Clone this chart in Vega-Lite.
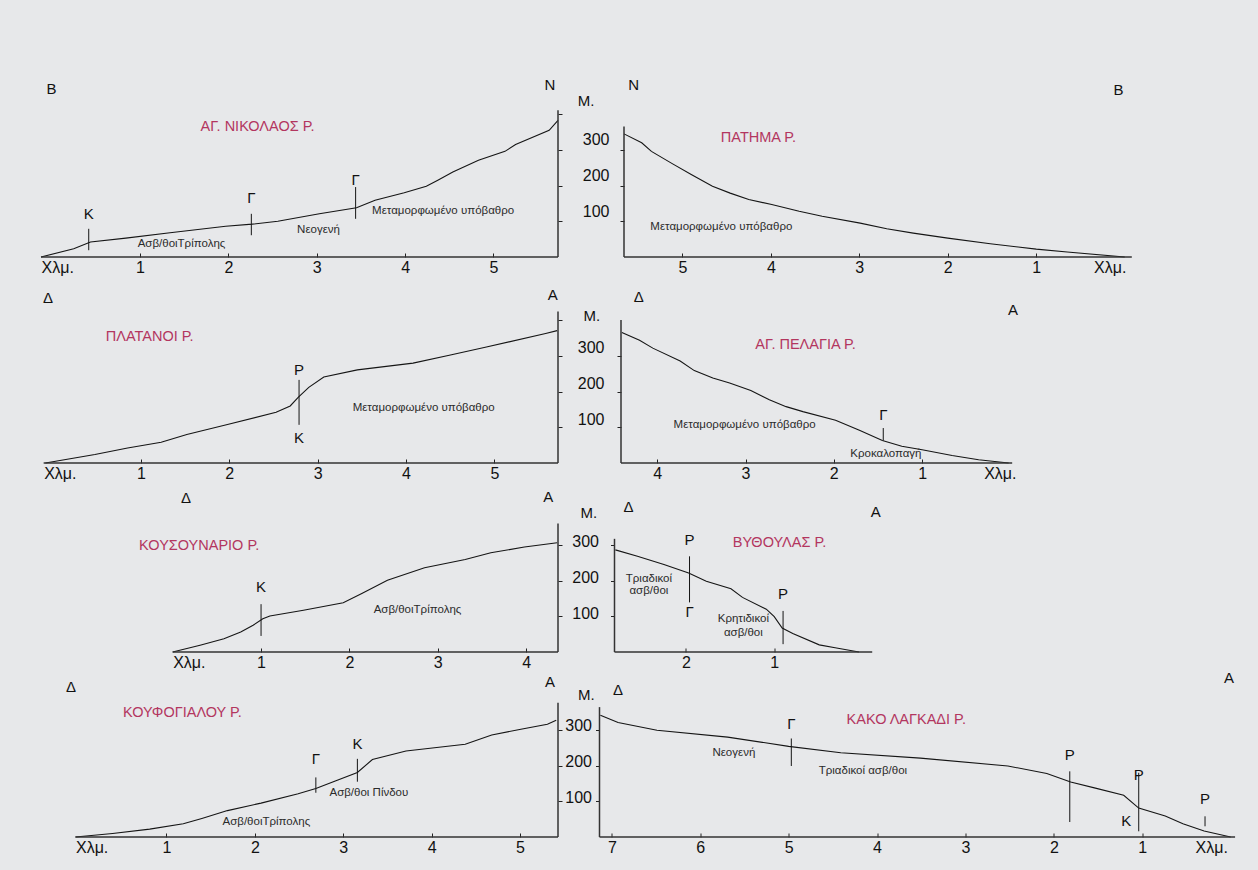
{
"$schema": "https://vega.github.io/schema/vega-lite/v6.json",
"background": "#e7e8ea",
"padding": {"left": 38, "top": 70, "right": 30, "bottom": 25},
"spacing": 0,
"config": {
  "view": {"stroke": null},
  "font": "Liberation Sans",
  "axisX": {"domain": false, "grid": false, "tickSize": -4, "tickColor": "#222", "labelPadding": 6, "labelFontSize": 16, "labelColor": "#111", "labelFlush": false, "labelOverlap": false, "labelBound": false},
  "axisY": {"domain": false, "grid": false, "tickSize": 4, "tickColor": "#222", "labelFontSize": 16, "labelColor": "#111", "labelFlush": false, "labelOverlap": false, "labelBound": false}
},
"datasets": {
"profiles": [
{"river":"nik","km":-0.12,"m":0},{"river":"nik","km":0.25,"m":23},{"river":"nik","km":0.44,"m":42},{"river":"nik","km":0.84,"m":53},{"river":"nik","km":1.34,"m":68},{"river":"nik","km":1.97,"m":86},{"river":"nik","km":2.27,"m":92},{"river":"nik","km":2.56,"m":100},{"river":"nik","km":3.03,"m":121},{"river":"nik","km":3.45,"m":138},{"river":"nik","km":3.66,"m":159},{"river":"nik","km":3.99,"m":180},{"river":"nik","km":4.24,"m":198},{"river":"nik","km":4.37,"m":215},{"river":"nik","km":4.54,"m":238},{"river":"nik","km":4.83,"m":271},{"river":"nik","km":5.13,"m":296},{"river":"nik","km":5.25,"m":315},{"river":"nik","km":5.63,"m":355},{"river":"nik","km":5.73,"m":383},
{"river":"pat","km":5.66,"m":345},{"river":"pat","km":5.46,"m":320},{"river":"pat","km":5.35,"m":296},{"river":"pat","km":5.11,"m":261},{"river":"pat","km":4.90,"m":231},{"river":"pat","km":4.66,"m":198},{"river":"pat","km":4.46,"m":179},{"river":"pat","km":4.25,"m":161},{"river":"pat","km":3.99,"m":147},{"river":"pat","km":3.68,"m":128},{"river":"pat","km":3.42,"m":114},{"river":"pat","km":2.99,"m":95},{"river":"pat","km":2.69,"m":79},{"river":"pat","km":2.39,"m":67},{"river":"pat","km":2.00,"m":53},{"river":"pat","km":1.52,"m":37},{"river":"pat","km":1.00,"m":22},{"river":"pat","km":0.65,"m":14},{"river":"pat","km":0,"m":0},
{"river":"pla","km":-0.08,"m":0},{"river":"pla","km":0.48,"m":24},{"river":"pla","km":0.85,"m":42},{"river":"pla","km":1.23,"m":58},{"river":"pla","km":1.52,"m":80},{"river":"pla","km":1.98,"m":108},{"river":"pla","km":2.53,"m":142},{"river":"pla","km":2.69,"m":160},{"river":"pla","km":2.78,"m":184},{"river":"pla","km":2.90,"m":212},{"river":"pla","km":3.07,"m":241},{"river":"pla","km":3.45,"m":261},{"river":"pla","km":4.08,"m":280},{"river":"pla","km":4.49,"m":302},{"river":"pla","km":4.91,"m":325},{"river":"pla","km":5.58,"m":363},{"river":"pla","km":5.71,"m":371},
{"river":"pel","km":4.40,"m":366},{"river":"pel","km":4.20,"m":344},{"river":"pel","km":4.05,"m":322},{"river":"pel","km":3.74,"m":286},{"river":"pel","km":3.58,"m":259},{"river":"pel","km":3.37,"m":238},{"river":"pel","km":3.18,"m":224},{"river":"pel","km":2.94,"m":203},{"river":"pel","km":2.73,"m":177},{"river":"pel","km":2.54,"m":158},{"river":"pel","km":2.35,"m":144},{"river":"pel","km":1.98,"m":120},{"river":"pel","km":1.71,"m":92},{"river":"pel","km":1.45,"m":63},{"river":"pel","km":1.23,"m":47},{"river":"pel","km":1.00,"m":37},{"river":"pel","km":0.66,"m":21},{"river":"pel","km":0.36,"m":9},{"river":"pel","km":0.02,"m":0},
{"river":"kou","km":0,"m":0},{"river":"kou","km":0.31,"m":19},{"river":"kou","km":0.58,"m":37},{"river":"kou","km":0.77,"m":56},{"river":"kou","km":0.91,"m":75},{"river":"kou","km":1.02,"m":93},{"river":"kou","km":1.10,"m":101},{"river":"kou","km":1.48,"m":117},{"river":"kou","km":1.93,"m":138},{"river":"kou","km":2.14,"m":164},{"river":"kou","km":2.43,"m":201},{"river":"kou","km":2.85,"m":236},{"river":"kou","km":3.31,"m":259},{"river":"kou","km":3.60,"m":278},{"river":"kou","km":3.98,"m":294},{"river":"kou","km":4.35,"m":306},
{"river":"vyt","km":2.80,"m":286},{"river":"vyt","km":2.55,"m":268},{"river":"vyt","km":2.25,"m":245},{"river":"vyt","km":1.97,"m":221},{"river":"vyt","km":1.77,"m":198},{"river":"vyt","km":1.49,"m":177},{"river":"vyt","km":1.36,"m":153},{"river":"vyt","km":1.09,"m":120},{"river":"vyt","km":1.00,"m":99},{"river":"vyt","km":0.91,"m":67},{"river":"vyt","km":0.79,"m":52},{"river":"vyt","km":0.49,"m":20},{"river":"vyt","km":0.31,"m":12},{"river":"vyt","km":0.04,"m":0},
{"river":"kf","km":-0.03,"m":0},{"river":"kf","km":0.39,"m":10},{"river":"kf","km":0.81,"m":22},{"river":"kf","km":1.19,"m":37},{"river":"kf","km":1.40,"m":52},{"river":"kf","km":1.69,"m":74},{"river":"kf","km":2.07,"m":95},{"river":"kf","km":2.49,"m":121},{"river":"kf","km":2.69,"m":136},{"river":"kf","km":2.91,"m":157},{"river":"kf","km":3.16,"m":181},{"river":"kf","km":3.33,"m":217},{"river":"kf","km":3.71,"m":241},{"river":"kf","km":4.38,"m":260},{"river":"kf","km":4.68,"m":286},{"river":"kf","km":5.01,"m":302},{"river":"kf","km":5.31,"m":316},{"river":"kf","km":5.41,"m":327},
{"river":"kak","km":7.13,"m":341},{"river":"kak","km":6.93,"m":321},{"river":"kak","km":6.49,"m":299},{"river":"kak","km":5.69,"m":280},{"river":"kak","km":5.00,"m":254},{"river":"kak","km":4.41,"m":236},{"river":"kak","km":3.51,"m":221},{"river":"kak","km":2.52,"m":199},{"river":"kak","km":2.08,"m":178},{"river":"kak","km":1.81,"m":154},{"river":"kak","km":1.53,"m":137},{"river":"kak","km":1.21,"m":117},{"river":"kak","km":1.04,"m":81},{"river":"kak","km":0.74,"m":59},{"river":"kak","km":0.54,"m":37},{"river":"kak","km":0.30,"m":17},{"river":"kak","km":0,"m":0}
],
"hrules": [
{"river":"nik","km":-0.12,"km2":5.73,"m":0},{"river":"pat","km":5.66,"km2":-0.08,"m":0},{"river":"pla","km":-0.10,"km2":5.72,"m":0},{"river":"pel","km":4.41,"km2":-0.02,"m":0},{"river":"kou","km":0,"km2":4.36,"m":0},{"river":"vyt","km":2.81,"km2":-0.11,"m":0},{"river":"kf","km":-0.03,"km2":5.43,"m":0},{"river":"kak","km":7.14,"km2":-0.05,"m":0}
],
"vrules": [
{"river":"nik","kind":"axis","km":5.73,"m":0,"m2":411},{"river":"pat","kind":"axis","km":5.66,"m":0,"m2":366},{"river":"pla","kind":"axis","km":5.72,"m":0,"m2":425},{"river":"pel","kind":"axis","km":4.41,"m":0,"m2":401},{"river":"kou","kind":"axis","km":4.36,"m":0,"m2":360},{"river":"vyt","kind":"axis","km":2.81,"m":0,"m2":317},{"river":"kf","kind":"axis","km":5.43,"m":0,"m2":376},{"river":"kak","kind":"axis","km":7.14,"m":0,"m2":364},
{"river":"nik","kind":"mark","km":0.42,"m":19,"m2":79},{"river":"nik","kind":"mark","km":2.26,"m":61,"m2":121},{"river":"nik","kind":"mark","km":3.44,"m":107,"m2":196},
{"river":"pla","kind":"mark","km":2.79,"m":107,"m2":233},
{"river":"pel","kind":"mark","km":1.44,"m":63,"m2":98},
{"river":"kou","kind":"mark","km":1.0,"m":45,"m2":134},
{"river":"kf","kind":"mark","km":2.69,"m":124,"m2":167},{"river":"kf","kind":"mark","km":3.16,"m":155,"m2":219},
{"river":"vyt","kind":"mark","km":1.96,"m":139,"m2":268},{"river":"vyt","kind":"mark","km":0.90,"m":22,"m2":115},
{"river":"kak","kind":"mark","km":4.97,"m":199,"m2":276},{"river":"kak","kind":"mark","km":1.82,"m":42,"m2":184},{"river":"kak","kind":"mark","km":1.04,"m":16,"m2":180},{"river":"kak","kind":"mark","km":0.29,"m":30,"m2":58}
],
"labels": [
{"river":"nik","kind":"sym","text":"Β","km":0,"m":472},{"river":"nik","kind":"sym","text":"Ν","km":5.64,"m":483},{"river":"nik","kind":"sym","text":"Κ","km":0.42,"m":121},{"river":"nik","kind":"sym","text":"Γ","km":2.26,"m":165},{"river":"nik","kind":"sym","text":"Γ","km":3.44,"m":215},
{"river":"nik","kind":"name","text":"ΑΓ. ΝΙΚΟΛΑΟΣ Ρ.","km":2.33,"m":364},
{"river":"nik","kind":"rock","text":"Ασβ/θοιΤρίπολης","km":1.47,"m":37},{"river":"nik","kind":"rock","text":"Νεογενή","km":3.02,"m":75},{"river":"nik","kind":"rock","text":"Μεταμορφωμένο υπόβαθρο","km":4.43,"m":128},
{"river":"pat","kind":"sym","text":"Ν","km":5.55,"m":483},{"river":"pat","kind":"sym","text":"Β","km":0.07,"m":467},{"river":"pat","kind":"sym","text":"Μ.","km":6.09,"m":438},
{"river":"pat","kind":"name","text":"ΠΑΤΗΜΑ Ρ.","km":4.14,"m":334},
{"river":"pat","kind":"rock","text":"Μεταμορφωμένο υπόβαθρο","km":4.56,"m":84},
{"river":"pla","kind":"sym","text":"Δ","km":-0.05,"m":462},{"river":"pla","kind":"sym","text":"Α","km":5.66,"m":472},{"river":"pla","kind":"sym","text":"Ρ","km":2.79,"m":261},{"river":"pla","kind":"sym","text":"Κ","km":2.79,"m":69},
{"river":"pla","kind":"name","text":"ΠΛΑΤΑΝΟΙ Ρ.","km":1.10,"m":354},
{"river":"pla","kind":"rock","text":"Μεταμορφωμένο υπόβαθρο","km":4.20,"m":153},
{"river":"pel","kind":"sym","text":"Δ","km":4.21,"m":465},{"river":"pel","kind":"sym","text":"Α","km":-0.03,"m":428},{"river":"pel","kind":"sym","text":"Μ.","km":4.74,"m":411},{"river":"pel","kind":"sym","text":"Γ","km":1.44,"m":134},
{"river":"pel","kind":"name","text":"ΑΓ. ΠΕΛΑΓΙΑ Ρ.","km":2.32,"m":331},
{"river":"pel","kind":"rock","text":"Μεταμορφωμένο υπόβαθρο","km":3.01,"m":106},{"river":"pel","kind":"rock","text":"Κροκαλοπαγή","km":1.41,"m":24},
{"river":"kou","kind":"sym","text":"Δ","km":0.15,"m":430},{"river":"kou","kind":"sym","text":"Α","km":4.25,"m":433},{"river":"kou","kind":"sym","text":"Κ","km":1.0,"m":182},
{"river":"kou","kind":"name","text":"ΚΟΥΣΟΥΝΑΡΙΟ Ρ.","km":0.30,"m":297},
{"river":"kou","kind":"rock","text":"Ασβ/θοιΤρίπολης","km":2.77,"m":119},
{"river":"vyt","kind":"sym","text":"Δ","km":2.65,"m":407},{"river":"vyt","kind":"sym","text":"Α","km":-0.15,"m":392},{"river":"vyt","kind":"sym","text":"Μ.","km":3.10,"m":388},{"river":"vyt","kind":"sym","text":"Ρ","km":1.96,"m":313},{"river":"vyt","kind":"sym","text":"Γ","km":1.96,"m":111},{"river":"vyt","kind":"sym","text":"Ρ","km":0.90,"m":162},
{"river":"vyt","kind":"name","text":"ΒΥΘΟΥΛΑΣ Ρ.","km":0.94,"m":306},
{"river":"vyt","kind":"rock","text":"Τριαδικοί","km":2.42,"m":205},{"river":"vyt","kind":"rock","text":"ασβ/θοι","km":2.42,"m":170},{"river":"vyt","kind":"rock","text":"Κρητιδικοί","km":1.35,"m":92},{"river":"vyt","kind":"rock","text":"ασβ/θοι","km":1.35,"m":54},
{"river":"kf","kind":"sym","text":"Δ","km":-0.08,"m":419},{"river":"kf","kind":"sym","text":"Α","km":5.34,"m":433},{"river":"kf","kind":"sym","text":"Γ","km":2.69,"m":219},{"river":"kf","kind":"sym","text":"Κ","km":3.16,"m":262},
{"river":"kf","kind":"name","text":"ΚΟΥΦΟΓΙΑΛΟΥ Ρ.","km":1.18,"m":348},
{"river":"kf","kind":"rock","text":"Ασβ/θοι Πίνδου","km":3.29,"m":124},{"river":"kf","kind":"rock","text":"Ασβ/θοιΤρίπολης","km":2.13,"m":41},
{"river":"kak","kind":"sym","text":"Δ","km":6.93,"m":411},{"river":"kak","kind":"sym","text":"Μ.","km":7.29,"m":397},{"river":"kak","kind":"sym","text":"Α","km":0.02,"m":445},{"river":"kak","kind":"sym","text":"Γ","km":4.97,"m":318},{"river":"kak","kind":"sym","text":"Ρ","km":1.82,"m":231},{"river":"kak","kind":"sym","text":"Ρ","km":1.04,"m":173},{"river":"kak","kind":"sym","text":"Κ","km":1.18,"m":44},{"river":"kak","kind":"sym","text":"Ρ","km":0.29,"m":106},
{"river":"kak","kind":"name","text":"ΚΑΚΟ ΛΑΓΚΑΔΙ Ρ.","km":3.67,"m":327},
{"river":"kak","kind":"rock","text":"Νεογενή","km":5.62,"m":236},{"river":"kak","kind":"rock","text":"Τριαδικοί ασβ/θοι","km":4.16,"m":184}
]
},
"vconcat": [
{"spacing": 14, "hconcat": [
 {"width": 517, "height": 187,
  "encoding": {
   "x": {"field":"km","type":"quantitative","scale":{"domain":[-0.12,5.73],"nice":false,"zero":false},"axis":{"values":[-0.12,1,2,3,4,5],"title":null,"labelExpr":"datum.value < 0.5 ? 'Χλμ.' : datum.label","labelAlign":{"condition":{"test":"datum.value < 0.5","value":"left"},"value":"center"},"tickOpacity":{"condition":{"test":"datum.value < 0.5","value":0},"value":1}}},
   "y": {"field":"m","type":"quantitative","scale":{"domain":[0,524],"nice":false},"axis":{"orient":"right","values":[100,200,300,400],"labels":false,"title":null,"minExtent":4,"maxExtent":4}}},
  "layer": [
   {"data":{"name":"profiles"},"transform":[{"filter":"datum.river === 'nik'"}],"mark":{"type":"line","color":"#151515","strokeWidth":1.1}},
   {"data":{"name":"hrules"},"transform":[{"filter":"datum.river === 'nik'"}],"mark":{"type":"rule","color":"#333","strokeWidth":1.5},"encoding":{"x2":{"field":"km2"}}},
   {"data":{"name":"vrules"},"transform":[{"filter":"datum.river === 'nik' && datum.kind === 'axis'"}],"mark":{"type":"rule","color":"#333","strokeWidth":1.5},"encoding":{"y2":{"field":"m2"}}},
   {"data":{"name":"vrules"},"transform":[{"filter":"datum.river === 'nik' && datum.kind === 'mark'"}],"mark":{"type":"rule","color":"#151515","strokeWidth":1},"encoding":{"y2":{"field":"m2"}}},
   {"data":{"name":"labels"},"transform":[{"filter":"datum.river === 'nik' && datum.kind === 'sym'"}],"mark":{"type":"text","fontSize":15,"color":"#111"},"encoding":{"text":{"field":"text"}}},
   {"data":{"name":"labels"},"transform":[{"filter":"datum.river === 'nik' && datum.kind === 'name'"}],"mark":{"type":"text","fontSize":14.5,"color":"#b3365f"},"encoding":{"text":{"field":"text"}}},
   {"data":{"name":"labels"},"transform":[{"filter":"datum.river === 'nik' && datum.kind === 'rock'"}],"mark":{"type":"text","fontSize":11.5,"color":"#2b2b2b"},"encoding":{"text":{"field":"text"}}}
  ]},
 {"width": 514, "height": 187,
  "encoding": {
   "x": {"field":"km","type":"quantitative","scale":{"domain":[5.66,-0.15],"nice":false,"zero":false},"axis":{"values":[5,4,3,2,1,0.17],"title":null,"labelExpr":"datum.value < 0.5 ? 'Χλμ.' : datum.label","tickOpacity":{"condition":{"test":"datum.value < 0.5","value":0},"value":1}}},
   "y": {"field":"m","type":"quantitative","scale":{"domain":[0,524],"nice":false},"axis":{"orient":"left","values":[100,200,300],"title":null,"labelPadding":11,"labelOffset":-10,"minExtent":45,"maxExtent":45}}},
  "layer": [
   {"data":{"name":"profiles"},"transform":[{"filter":"datum.river === 'pat'"}],"mark":{"type":"line","color":"#151515","strokeWidth":1.1}},
   {"data":{"name":"hrules"},"transform":[{"filter":"datum.river === 'pat'"}],"mark":{"type":"rule","color":"#333","strokeWidth":1.5},"encoding":{"x2":{"field":"km2"}}},
   {"data":{"name":"vrules"},"transform":[{"filter":"datum.river === 'pat' && datum.kind === 'axis'"}],"mark":{"type":"rule","color":"#333","strokeWidth":1.5},"encoding":{"y2":{"field":"m2"}}},
   {"data":{"name":"labels"},"transform":[{"filter":"datum.river === 'pat' && datum.kind === 'sym'"}],"mark":{"type":"text","fontSize":15,"color":"#111"},"encoding":{"text":{"field":"text"}}},
   {"data":{"name":"labels"},"transform":[{"filter":"datum.river === 'pat' && datum.kind === 'name'"}],"mark":{"type":"text","fontSize":14.5,"color":"#b3365f"},"encoding":{"text":{"field":"text"}}},
   {"data":{"name":"labels"},"transform":[{"filter":"datum.river === 'pat' && datum.kind === 'rock'"}],"mark":{"type":"text","fontSize":11.5,"color":"#2b2b2b"},"encoding":{"text":{"field":"text"}}}
  ]}
]},
{"spacing": 13, "hconcat": [
 {"width": 517, "height": 188,
  "encoding": {
   "x": {"field":"km","type":"quantitative","scale":{"domain":[-0.13,5.72],"nice":false,"zero":false},"axis":{"values":[-0.1,1,2,3,4,5],"title":null,"labelExpr":"datum.value < 0.5 ? 'Χλμ.' : datum.label","labelAlign":{"condition":{"test":"datum.value < 0.5","value":"left"},"value":"center"},"tickOpacity":{"condition":{"test":"datum.value < 0.5","value":0},"value":1}}},
   "y": {"field":"m","type":"quantitative","scale":{"domain":[0,527],"nice":false},"axis":{"orient":"right","values":[100,200,300,400],"labels":false,"title":null,"minExtent":4,"maxExtent":4}}},
  "layer": [
   {"data":{"name":"profiles"},"transform":[{"filter":"datum.river === 'pla'"}],"mark":{"type":"line","color":"#151515","strokeWidth":1.1}},
   {"data":{"name":"hrules"},"transform":[{"filter":"datum.river === 'pla'"}],"mark":{"type":"rule","color":"#333","strokeWidth":1.5},"encoding":{"x2":{"field":"km2"}}},
   {"data":{"name":"vrules"},"transform":[{"filter":"datum.river === 'pla' && datum.kind === 'axis'"}],"mark":{"type":"rule","color":"#333","strokeWidth":1.5},"encoding":{"y2":{"field":"m2"}}},
   {"data":{"name":"vrules"},"transform":[{"filter":"datum.river === 'pla' && datum.kind === 'mark'"}],"mark":{"type":"rule","color":"#151515","strokeWidth":1},"encoding":{"y2":{"field":"m2"}}},
   {"data":{"name":"labels"},"transform":[{"filter":"datum.river === 'pla' && datum.kind === 'sym'"}],"mark":{"type":"text","fontSize":15,"color":"#111"},"encoding":{"text":{"field":"text"}}},
   {"data":{"name":"labels"},"transform":[{"filter":"datum.river === 'pla' && datum.kind === 'name'"}],"mark":{"type":"text","fontSize":14.5,"color":"#b3365f"},"encoding":{"text":{"field":"text"}}},
   {"data":{"name":"labels"},"transform":[{"filter":"datum.river === 'pla' && datum.kind === 'rock'"}],"mark":{"type":"text","fontSize":11.5,"color":"#2b2b2b"},"encoding":{"text":{"field":"text"}}}
  ]},
 {"width": 400, "height": 188,
  "encoding": {
   "x": {"field":"km","type":"quantitative","scale":{"domain":[4.41,-0.12],"nice":false,"zero":false},"axis":{"values":[4,3,2,1,0.12],"title":null,"labelExpr":"datum.value < 0.5 ? 'Χλμ.' : datum.label","tickOpacity":{"condition":{"test":"datum.value < 0.5","value":0},"value":1}}},
   "y": {"field":"m","type":"quantitative","scale":{"domain":[0,527],"nice":false},"axis":{"orient":"left","values":[100,200,300],"title":null,"labelPadding":13,"labelOffset":-8,"minExtent":45,"maxExtent":45}}},
  "layer": [
   {"data":{"name":"profiles"},"transform":[{"filter":"datum.river === 'pel'"}],"mark":{"type":"line","color":"#151515","strokeWidth":1.1}},
   {"data":{"name":"hrules"},"transform":[{"filter":"datum.river === 'pel'"}],"mark":{"type":"rule","color":"#333","strokeWidth":1.5},"encoding":{"x2":{"field":"km2"}}},
   {"data":{"name":"vrules"},"transform":[{"filter":"datum.river === 'pel' && datum.kind === 'axis'"}],"mark":{"type":"rule","color":"#333","strokeWidth":1.5},"encoding":{"y2":{"field":"m2"}}},
   {"data":{"name":"vrules"},"transform":[{"filter":"datum.river === 'pel' && datum.kind === 'mark'"}],"mark":{"type":"rule","color":"#151515","strokeWidth":1},"encoding":{"y2":{"field":"m2"}}},
   {"data":{"name":"labels"},"transform":[{"filter":"datum.river === 'pel' && datum.kind === 'sym'"}],"mark":{"type":"text","fontSize":15,"color":"#111"},"encoding":{"text":{"field":"text"}}},
   {"data":{"name":"labels"},"transform":[{"filter":"datum.river === 'pel' && datum.kind === 'name'"}],"mark":{"type":"text","fontSize":14.5,"color":"#b3365f"},"encoding":{"text":{"field":"text"}}},
   {"data":{"name":"labels"},"transform":[{"filter":"datum.river === 'pel' && datum.kind === 'rock'"}],"mark":{"type":"text","fontSize":11.5,"color":"#2b2b2b"},"encoding":{"text":{"field":"text"}}}
  ]}
]},
{"spacing": 6.5, "hconcat": [
 {"width": 517, "height": 171,
  "encoding": {
   "x": {"field":"km","type":"quantitative","scale":{"domain":[-1.49,4.36],"nice":false,"zero":false},"axis":{"values":[0,1,2,3,4],"title":null,"labelExpr":"datum.value < 0.5 ? 'Χλμ.' : datum.label","labelAlign":{"condition":{"test":"datum.value < 0.5","value":"left"},"value":"center"},"tickOpacity":{"condition":{"test":"datum.value < 0.5","value":0},"value":1}}},
   "y": {"field":"m","type":"quantitative","scale":{"domain":[0,479],"nice":false},"axis":{"orient":"right","values":[100,200,300],"labels":false,"title":null,"minExtent":4,"maxExtent":4}}},
  "layer": [
   {"data":{"name":"profiles"},"transform":[{"filter":"datum.river === 'kou'"}],"mark":{"type":"line","color":"#151515","strokeWidth":1.1}},
   {"data":{"name":"hrules"},"transform":[{"filter":"datum.river === 'kou'"}],"mark":{"type":"rule","color":"#333","strokeWidth":1.5},"encoding":{"x2":{"field":"km2"}}},
   {"data":{"name":"vrules"},"transform":[{"filter":"datum.river === 'kou' && datum.kind === 'axis'"}],"mark":{"type":"rule","color":"#333","strokeWidth":1.5},"encoding":{"y2":{"field":"m2"}}},
   {"data":{"name":"vrules"},"transform":[{"filter":"datum.river === 'kou' && datum.kind === 'mark'"}],"mark":{"type":"rule","color":"#151515","strokeWidth":1},"encoding":{"y2":{"field":"m2"}}},
   {"data":{"name":"labels"},"transform":[{"filter":"datum.river === 'kou' && datum.kind === 'sym'"}],"mark":{"type":"text","fontSize":15,"color":"#111"},"encoding":{"text":{"field":"text"}}},
   {"data":{"name":"labels"},"transform":[{"filter":"datum.river === 'kou' && datum.kind === 'name'"}],"mark":{"type":"text","fontSize":14.5,"color":"#b3365f"},"encoding":{"text":{"field":"text"}}},
   {"data":{"name":"labels"},"transform":[{"filter":"datum.river === 'kou' && datum.kind === 'rock'"}],"mark":{"type":"text","fontSize":11.5,"color":"#2b2b2b"},"encoding":{"text":{"field":"text"}}}
  ]},
 {"width": 263, "height": 171,
  "encoding": {
   "x": {"field":"km","type":"quantitative","scale":{"domain":[2.81,-0.17],"nice":false,"zero":false},"axis":{"values":[2,1],"title":null}},
   "y": {"field":"m","type":"quantitative","scale":{"domain":[0,479],"nice":false},"axis":{"orient":"left","values":[100,200,300],"title":null,"labelPadding":12,"labelOffset":-3,"minExtent":45,"maxExtent":45}}},
  "layer": [
   {"data":{"name":"profiles"},"transform":[{"filter":"datum.river === 'vyt'"}],"mark":{"type":"line","color":"#151515","strokeWidth":1.1}},
   {"data":{"name":"hrules"},"transform":[{"filter":"datum.river === 'vyt'"}],"mark":{"type":"rule","color":"#333","strokeWidth":1.5},"encoding":{"x2":{"field":"km2"}}},
   {"data":{"name":"vrules"},"transform":[{"filter":"datum.river === 'vyt' && datum.kind === 'axis'"}],"mark":{"type":"rule","color":"#333","strokeWidth":1.5},"encoding":{"y2":{"field":"m2"}}},
   {"data":{"name":"vrules"},"transform":[{"filter":"datum.river === 'vyt' && datum.kind === 'mark'"}],"mark":{"type":"rule","color":"#151515","strokeWidth":1},"encoding":{"y2":{"field":"m2"}}},
   {"data":{"name":"labels"},"transform":[{"filter":"datum.river === 'vyt' && datum.kind === 'sym'"}],"mark":{"type":"text","fontSize":15,"color":"#111"},"encoding":{"text":{"field":"text"}}},
   {"data":{"name":"labels"},"transform":[{"filter":"datum.river === 'vyt' && datum.kind === 'name'"}],"mark":{"type":"text","fontSize":14.5,"color":"#b3365f"},"encoding":{"text":{"field":"text"}}},
   {"data":{"name":"labels"},"transform":[{"filter":"datum.river === 'vyt' && datum.kind === 'rock'"}],"mark":{"type":"text","fontSize":11.5,"color":"#2b2b2b"},"encoding":{"text":{"field":"text"}}}
  ]}
]},
{"spacing": 0.5, "hconcat": [
 {"width": 517, "height": 167,
  "encoding": {
   "x": {"field":"km","type":"quantitative","scale":{"domain":[-0.42,5.43],"nice":false,"zero":false},"axis":{"values":[-0.03,1,2,3,4,5],"title":null,"labelExpr":"datum.value < 0.5 ? 'Χλμ.' : datum.label","labelAlign":{"condition":{"test":"datum.value < 0.5","value":"left"},"value":"center"},"tickOpacity":{"condition":{"test":"datum.value < 0.5","value":0},"value":1}}},
   "y": {"field":"m","type":"quantitative","scale":{"domain":[0,468],"nice":false},"axis":{"orient":"right","values":[100,200,300],"labels":false,"title":null,"minExtent":4,"maxExtent":4}}},
  "layer": [
   {"data":{"name":"profiles"},"transform":[{"filter":"datum.river === 'kf'"}],"mark":{"type":"line","color":"#151515","strokeWidth":1.1}},
   {"data":{"name":"hrules"},"transform":[{"filter":"datum.river === 'kf'"}],"mark":{"type":"rule","color":"#333","strokeWidth":1.5},"encoding":{"x2":{"field":"km2"}}},
   {"data":{"name":"vrules"},"transform":[{"filter":"datum.river === 'kf' && datum.kind === 'axis'"}],"mark":{"type":"rule","color":"#333","strokeWidth":1.5},"encoding":{"y2":{"field":"m2"}}},
   {"data":{"name":"vrules"},"transform":[{"filter":"datum.river === 'kf' && datum.kind === 'mark'"}],"mark":{"type":"rule","color":"#151515","strokeWidth":1},"encoding":{"y2":{"field":"m2"}}},
   {"data":{"name":"labels"},"transform":[{"filter":"datum.river === 'kf' && datum.kind === 'sym'"}],"mark":{"type":"text","fontSize":15,"color":"#111"},"encoding":{"text":{"field":"text"}}},
   {"data":{"name":"labels"},"transform":[{"filter":"datum.river === 'kf' && datum.kind === 'name'"}],"mark":{"type":"text","fontSize":14.5,"color":"#b3365f"},"encoding":{"text":{"field":"text"}}},
   {"data":{"name":"labels"},"transform":[{"filter":"datum.river === 'kf' && datum.kind === 'rock'"}],"mark":{"type":"text","fontSize":11.5,"color":"#2b2b2b"},"encoding":{"text":{"field":"text"}}}
  ]},
 {"width": 640, "height": 167,
  "encoding": {
   "x": {"field":"km","type":"quantitative","scale":{"domain":[7.14,-0.10],"nice":false,"zero":false},"axis":{"values":[7,6,5,4,3,2,1,0.22],"title":null,"labelExpr":"datum.value < 0.5 ? 'Χλμ.' : datum.label","tickOpacity":{"condition":{"test":"datum.value < 0.5","value":0},"value":1}}},
   "y": {"field":"m","type":"quantitative","scale":{"domain":[0,468],"nice":false},"axis":{"orient":"left","values":[100,200,300],"title":null,"labelPadding":4,"labelOffset":-4,"minExtent":36,"maxExtent":36}}},
  "layer": [
   {"data":{"name":"profiles"},"transform":[{"filter":"datum.river === 'kak'"}],"mark":{"type":"line","color":"#151515","strokeWidth":1.1}},
   {"data":{"name":"hrules"},"transform":[{"filter":"datum.river === 'kak'"}],"mark":{"type":"rule","color":"#333","strokeWidth":1.5},"encoding":{"x2":{"field":"km2"}}},
   {"data":{"name":"vrules"},"transform":[{"filter":"datum.river === 'kak' && datum.kind === 'axis'"}],"mark":{"type":"rule","color":"#333","strokeWidth":1.5},"encoding":{"y2":{"field":"m2"}}},
   {"data":{"name":"vrules"},"transform":[{"filter":"datum.river === 'kak' && datum.kind === 'mark'"}],"mark":{"type":"rule","color":"#151515","strokeWidth":1},"encoding":{"y2":{"field":"m2"}}},
   {"data":{"name":"labels"},"transform":[{"filter":"datum.river === 'kak' && datum.kind === 'sym'"}],"mark":{"type":"text","fontSize":15,"color":"#111"},"encoding":{"text":{"field":"text"}}},
   {"data":{"name":"labels"},"transform":[{"filter":"datum.river === 'kak' && datum.kind === 'name'"}],"mark":{"type":"text","fontSize":14.5,"color":"#b3365f"},"encoding":{"text":{"field":"text"}}},
   {"data":{"name":"labels"},"transform":[{"filter":"datum.river === 'kak' && datum.kind === 'rock'"}],"mark":{"type":"text","fontSize":11.5,"color":"#2b2b2b"},"encoding":{"text":{"field":"text"}}}
  ]}
]}
]
}
